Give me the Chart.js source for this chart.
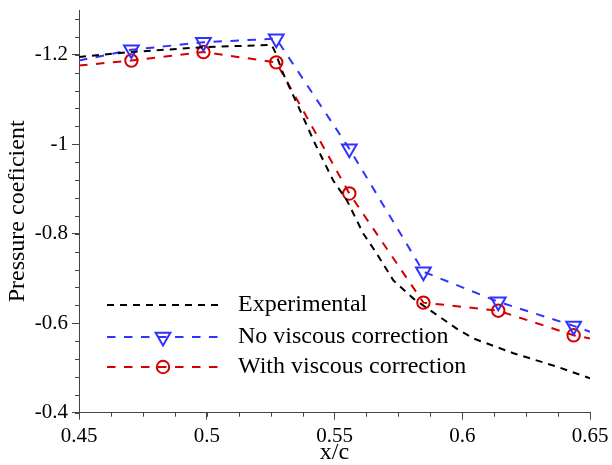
<!DOCTYPE html>
<html>
<head>
    <title>Pressure coefficient</title>
    <script src="https://cdn.jsdelivr.net/npm/chart.js"></script>
    <style>
        body {
            margin: 0;
            background: #fff;
        }
    </style>
</head>
<body>
    <canvas id="cpChart" width="612" height="465"></canvas>

    <script>
        // values
        var expX = [0.45, 0.47, 0.4985, 0.5254, 0.5268, 0.5299, 0.5365, 0.5424, 0.5495, 0.5548, 0.5613, 0.5665, 0.5730, 0.5809, 0.5874, 0.5978, 0.6043, 0.62, 0.637, 0.65];
        var expY = [-1.195, -1.206, -1.217, -1.222, -1.206, -1.158, -1.076, -1.001, -0.919, -0.875, -0.80, -0.756, -0.696, -0.655, -0.629, -0.588, -0.566, -0.533, -0.503, -0.477];

        var simX = [0.45, 0.4705, 0.4987, 0.5272, 0.5558, 0.5848, 0.6141, 0.6436, 0.65];
        var noViscY = [-1.187, -1.211, -1.228, -1.236, -0.99, -0.715, -0.648, -0.594, -0.581];
        var viscY = [-1.176, -1.187, -1.206, -1.183, -0.89, -0.646, -0.628, -0.573, -0.566];

        var xTicks = [0.45, 0.5, 0.55, 0.6, 0.65];
        var yTicks = [-1.2, -1, -0.8, -0.6, -0.4];
        var xMinorStep = 0.0125;
        var yMinorStep = 0.04;

        var seriesNames = ['Experimental', 'No viscous correction', 'With viscous correction'];

        var serif = '"Liberation Serif", "DejaVu Serif", serif';
        var axisColor = '#444';

        function pts(xs, ys) {
            return xs.map(function (x, i) { return { x: x, y: ys[i] }; });
        }
        // marker only on the inner points, not on the clipped ends
        function radii(n, r) {
            var out = [];
            for (var i = 0; i < n; i++) out.push(i === 0 || i === n - 1 ? 0 : r);
            return out;
        }

        var datasets = [
            {
                label: seriesNames[0],
                data: pts(expX, expY),
                borderColor: '#000',
                borderWidth: 2,
                borderDash: [7, 6],
                pointRadius: 0,
                fill: false
            },
            {
                label: seriesNames[1],
                data: pts(simX, noViscY),
                borderColor: '#3232ff',
                borderWidth: 2,
                borderDash: [8.5, 8.5],
                pointStyle: 'triangle',
                rotation: 180,
                pointRadius: radii(simX.length, 8.5),
                pointBorderWidth: 2,
                pointBackgroundColor: 'rgba(0,0,0,0)',
                pointBorderColor: '#3232ff',
                fill: false
            },
            {
                label: seriesNames[2],
                data: pts(simX, viscY),
                borderColor: '#d40000',
                borderWidth: 2,
                borderDash: [8.5, 8.5],
                pointStyle: 'circle',
                pointRadius: radii(simX.length, 6.2),
                pointBorderWidth: 2,
                pointBackgroundColor: 'rgba(0,0,0,0)',
                pointBorderColor: '#d40000',
                fill: false
            }
        ];

        // minor ticks and the legend inside the plot
        var decor = {
            id: 'decor',
            afterDraw: function (chart) {
                var ctx = chart.ctx;
                var xs = chart.scales.x, ys = chart.scales.y;
                var area = chart.chartArea;
                ctx.save();
                ctx.strokeStyle = axisColor;
                ctx.lineWidth = 1;
                ctx.beginPath();
                for (var v = xs.min; v <= xs.max + 1e-9; v += xMinorStep) {
                    var px = Math.round(xs.getPixelForValue(v)) + 0.5;
                    ctx.moveTo(px, area.bottom);
                    ctx.lineTo(px, area.bottom + 4);
                }
                for (var w = yTicks[yTicks.length - 1]; w >= ys.min - 1e-9; w -= yMinorStep) {
                    var py = Math.round(ys.getPixelForValue(w)) + 0.5;
                    ctx.moveTo(area.left, py);
                    ctx.lineTo(area.left - 4, py);
                }
                ctx.stroke();

                // legend
                var rowsY = [305, 337, 367];
                var x0 = 107, x1 = 219, xm = 163;
                ctx.font = '24px ' + serif;
                ctx.textBaseline = 'middle';
                ctx.textAlign = 'left';
                chart.data.datasets.forEach(function (ds, i) {
                    var y = rowsY[i];
                    ctx.setLineDash(ds.borderDash);
                    ctx.strokeStyle = ds.borderColor;
                    ctx.lineWidth = 2;
                    ctx.beginPath();
                    ctx.moveTo(x0, y);
                    ctx.lineTo(x1, y);
                    ctx.stroke();
                    ctx.setLineDash([]);
                    if (i > 0) {
                        ctx.fillStyle = 'rgba(0,0,0,0)';
                        ctx.strokeStyle = ds.borderColor;
                        ctx.lineWidth = 2;
                        Chart.helpers.drawPoint(ctx, {
                            pointStyle: ds.pointStyle,
                            rotation: ds.rotation || 0,
                            radius: ds.pointRadius[1],
                            borderWidth: 2
                        }, xm, y);
                    }
                    ctx.fillStyle = '#000';
                    ctx.fillText(ds.label, 238, y);
                });
                ctx.restore();
            }
        };

        var ctx = document.getElementById('cpChart').getContext('2d');
        var cpChart = new Chart(ctx, {
            type: 'line',
            data: { datasets: datasets },
            plugins: [decor],
            options: {
                responsive: false,
                animation: false,
                layout: { padding: { top: 10, right: 22, left: 0, bottom: 0 } },
                plugins: {
                    legend: { display: false },
                    tooltip: { enabled: false }
                },
                scales: {
                    x: {
                        type: 'linear',
                        min: 0.45,
                        max: 0.65,
                        afterBuildTicks: function (s) {
                            s.ticks = xTicks.map(function (v) { return { value: v }; });
                        },
                        afterFit: function (s) {
                            s.height = 52.3;
                            s.paddingLeft = 0;
                            s.paddingRight = 0;
                        },
                        grid: {
                            drawOnChartArea: false,
                            drawTicks: true,
                            tickLength: 7,
                            tickColor: axisColor
                        },
                        border: { display: true, color: axisColor, width: 1 },
                        ticks: {
                            padding: 4,
                            color: '#000',
                            maxRotation: 0,
                            font: { family: serif, size: 21 },
                            callback: function (v) { return String(+v.toFixed(4)); }
                        },
                        title: {
                            display: true,
                            text: 'x/c',
                            color: '#000',
                            padding: 0,
                            font: { family: serif, size: 24, lineHeight: 1 }
                        }
                    },
                    y: {
                        type: 'linear',
                        reverse: true,
                        min: -1.3,
                        max: -0.4,
                        afterBuildTicks: function (s) {
                            s.ticks = yTicks.map(function (v) { return { value: v }; });
                        },
                        afterFit: function (s) {
                            s.width = 79;
                            s.paddingTop = 0;
                            s.paddingBottom = 0;
                        },
                        grid: {
                            drawOnChartArea: false,
                            drawTicks: true,
                            tickLength: 7,
                            tickColor: axisColor
                        },
                        border: { display: true, color: axisColor, width: 1 },
                        ticks: {
                            padding: 4,
                            color: '#000',
                            font: { family: serif, size: 21 },
                            callback: function (v) { return String(+v.toFixed(4)); }
                        },
                        title: {
                            display: true,
                            text: 'Pressure coeficient',
                            color: '#000',
                            padding: { top: 3, bottom: 0 },
                            font: { family: serif, size: 24, lineHeight: 1.2 }
                        }
                    }
                }
            }
        });
    </script>
</body>
</html>
